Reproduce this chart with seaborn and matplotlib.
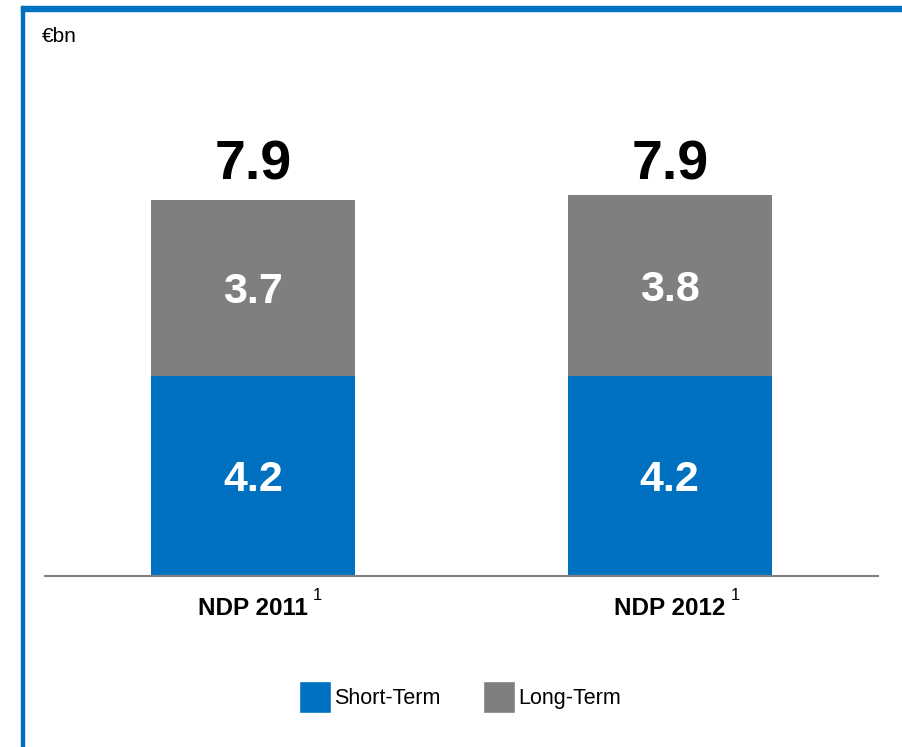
import matplotlib
matplotlib.use("Agg")
import matplotlib.pyplot as plt
from matplotlib.patches import Patch, Rectangle
import pandas as pd
import seaborn as sns

# Net debt position by maturity, €bn
categories = ["NDP 2011", "NDP 2012"]
short_term = [4.2, 4.2]
long_term = [3.7, 3.8]
totals = [7.9, 7.9]
footnote_marks = ["1", "1"]
legend_labels = ["Short-Term", "Long-Term"]
unit_label = "€bn"

BLUE = "#0070C0"
GREY = "#7F7F7F"

sns.set_style("white")
plt.rcParams["font.family"] = ["Liberation Sans", "DejaVu Sans"]
plt.rcParams["text.color"] = "black"
plt.rcParams["xtick.color"] = "black"
plt.rcParams["xtick.labelcolor"] = "black"

W, H = 903, 747
fig = plt.figure(figsize=(W / 100, H / 100), dpi=100)
ax = fig.add_axes([45 / W, (H - 576) / H, 833 / W, 476 / H])

df = pd.DataFrame({"period": categories, "short": short_term, "long": long_term})
df["stack"] = df["short"] + df["long"]

# Stacked bars: full stack in grey, short-term portion in blue on top of it
sns.barplot(data=df, x="period", y="stack", color=GREY, saturation=1,
            width=0.49, errorbar=None, ax=ax, linewidth=0)
sns.barplot(data=df, x="period", y="short", color=BLUE, saturation=1,
            width=0.49, errorbar=None, ax=ax, linewidth=0)

ax.set_xlim(-0.5, 1.5)
ax.set_ylim(0, 10)
ax.set_xlabel("")
ax.set_ylabel("")
ax.set_yticks([])
for side in ["left", "right", "top"]:
    ax.spines[side].set_visible(False)
ax.spines["bottom"].set_color("#808080")
ax.spines["bottom"].set_linewidth(1.5)
ax.spines["bottom"].set_zorder(5)
ax.tick_params(axis="x", length=0, pad=15)
for lab in ax.get_xticklabels():
    lab.set_fontsize(17.5)
    lab.set_fontweight("bold")
    lab.set_color("black")

# Segment value labels and totals
for i, (s, l) in enumerate(zip(short_term, long_term)):
    ax.annotate(f"{s:.1f}", xy=(i, s / 2), xytext=(0, -11), textcoords="offset points",
                ha="center", va="baseline", fontsize=31, fontweight="bold", color="white")
    ax.annotate(f"{l:.1f}", xy=(i, s + l / 2), xytext=(0, -11), textcoords="offset points",
                ha="center", va="baseline", fontsize=31, fontweight="bold", color="white")
    ax.annotate(f"{totals[i]:.1f}", xy=(i, totals[i]), xytext=(0, 15), textcoords="offset points",
                ha="center", va="baseline", fontsize=40, fontweight="bold", color="black")

# Unit label
fig.text(42 / W, (H - 42) / H, unit_label, fontsize=15, va="baseline", ha="left", color="black")

# Frame lines on left and top
fig.patches.append(Rectangle((21 / W, 0), 3.3 / W, (H - 6) / H,
                             transform=fig.transFigure, color=BLUE, zorder=0))
fig.patches.append(Rectangle((21 / W, (H - 10.5) / H), (W - 21) / W, 4.5 / H,
                             transform=fig.transFigure, color=BLUE, zorder=0))

# Legend
handles = [Patch(facecolor=BLUE, label=legend_labels[0]),
           Patch(facecolor=GREY, label=legend_labels[1])]
leg = fig.legend(handles=handles, loc="center", bbox_to_anchor=(460 / W, 1 - 697 / H),
                 ncol=2, frameon=False, fontsize=15.5, handlelength=1.45, handleheight=1.85,
                 handletextpad=0.15, columnspacing=2.0)
for t in leg.get_texts():
    t.set_color("black")

# Footnote superscripts after each tick label
fig.canvas.draw()
renderer = fig.canvas.get_renderer()
for lab, mark in zip(ax.get_xticklabels(), footnote_marks):
    bb = lab.get_window_extent(renderer)
    fig.text((bb.x1 + 5) / W, 147 / H, mark, fontsize=12, va="baseline", ha="left", color="black")

fig.savefig("out.png", dpi=100)
